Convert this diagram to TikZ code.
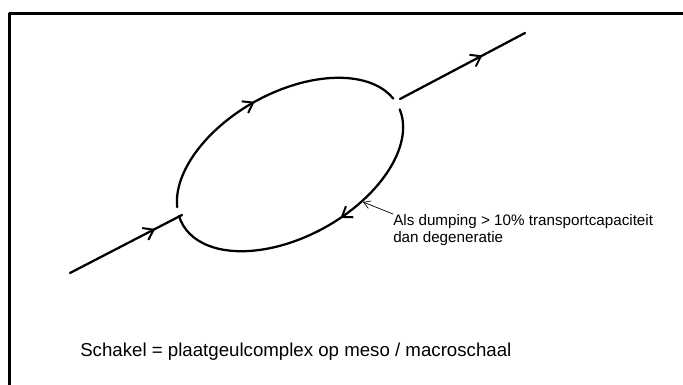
\documentclass[tikz,border=0pt]{standalone}
\usepackage{fontspec}
\setmainfont{Liberation Sans}
\usetikzlibrary{arrows.meta,decorations.markings}

\tikzset{
  flow/.style={line width=1.7pt,postaction={decorate},
    decoration={markings,mark=at position #1 with
      {\arrow{Straight Barb[length=7pt,width=10pt,line width=1.5pt]}}}},
  pointer/.style={line width=0.5pt,-{Straight Barb[length=5pt,width=6pt]}},
  note/.style={inner sep=0pt,align=left,font=\fontsize{11.4}{12.8}\selectfont},
  caption/.style={inner sep=0pt,font=\fontsize{14}{17}\selectfont}
}

\begin{document}
\begin{tikzpicture}[x=0.75pt,y=0.75pt,line cap=round,line join=round]
  \useasboundingbox (0,0) rectangle (683,-385);
  \draw[line width=1.8pt,line cap=butt] (9.5,-385) -- (9.5,-13.5) -- (683,-13.5);

  % schakel: two channels round the shoal
  \begin{scope}[shift={(290,-164.5)},rotate=29]
    \draw[flow=0.48] (166:123 and 72) arc[start angle=166,end angle=6,x radius=123,y radius=72];
    \draw[flow=0.42] (-4:123 and 72) arc[start angle=-4,end angle=-187,x radius=123,y radius=72];
  \end{scope}

  \coordinate (inS) at (70,-273);
  \coordinate (inE) at (182,-215);
  \coordinate (outS) at (400,-99);
  \coordinate (outE) at (525,-33);
  \draw[flow=0.76] (inS) -- (inE);
  \draw[flow=0.66] (outS) -- (outE);

  \node[note,anchor=north west] (remark) at (393,-214)
    {Als dumping > 10\% transportcapaciteit\\dan degeneratie};
  \coordinate (dumpTip) at (363,-202);
  \draw[pointer] (remark.north west) -- (dumpTip);

  \node[caption,anchor=base west] (title) at (80,-356)
    {Schakel = plaatgeulcomplex op meso / macroschaal};
\end{tikzpicture}
\end{document}
